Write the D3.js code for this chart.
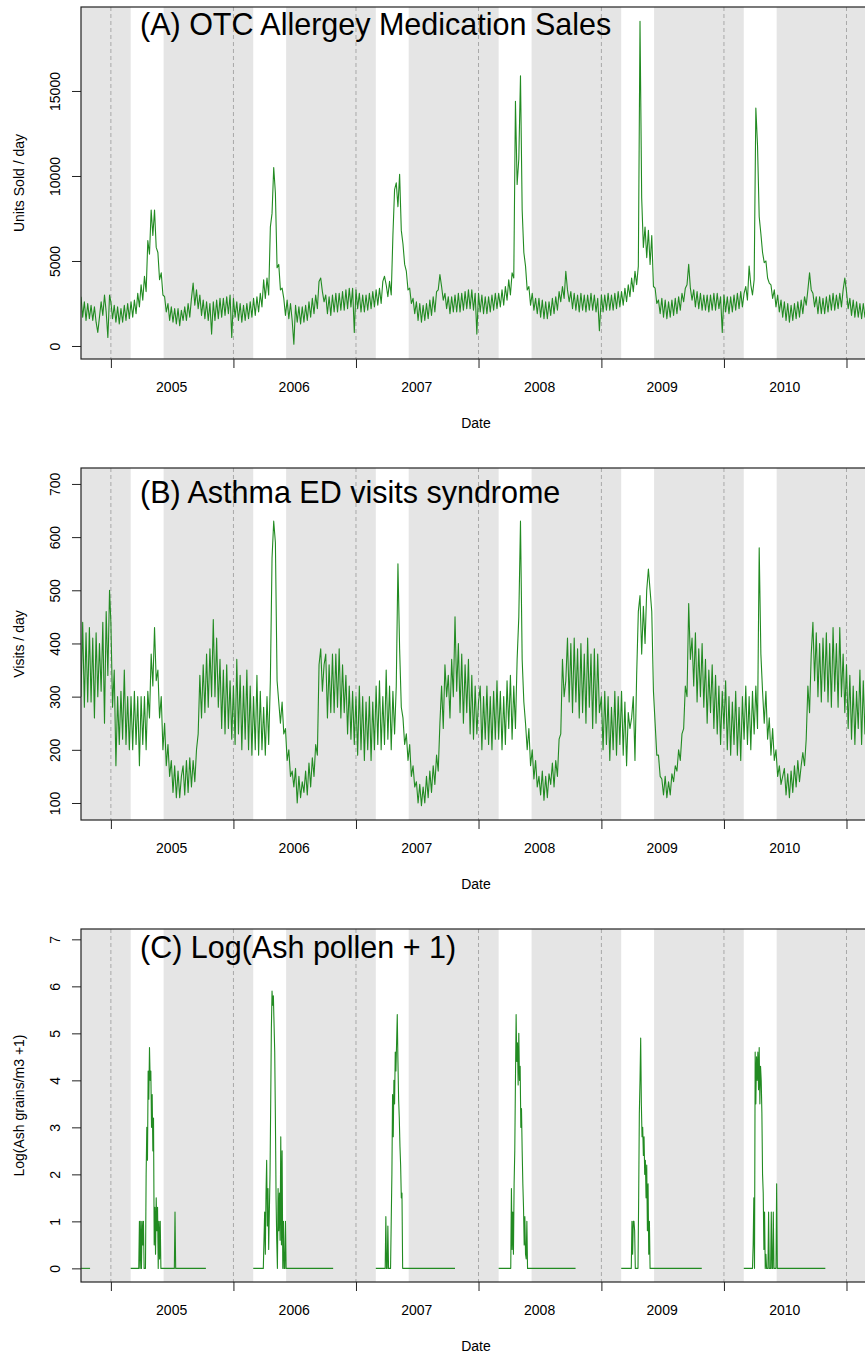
<!DOCTYPE html>
<html><head><meta charset="utf-8">
<script src="https://cdn.jsdelivr.net/npm/d3@7"></script>
<style>
body{margin:0;background:#fff}
svg{display:block}
text{font-family:"Liberation Sans",Arial,Helvetica,sans-serif;fill:#000}
</style>
</head><body>
<svg id="chart" width="865" height="1355"></svg>
<script>
// ---------- DATA ----------
// Panel A: OTC allergy medication units sold/day, one value every 5 days from the start date
const otc2004 = [2900,1700,2600,1500,2500,1600, 2400,1500,2300,1400,800,1700, 2600,1800,3000,2000,500,3000];
const otc2005 = [2600,1600,2400,1400,2300,1300,2200, 1400,2400,1500,2500,1600, 2600,1700,2700,1900,3100,2300,
  3600,2700,4100,3200,6200,5400, 8000,6500,8000,5800,5500,3900, 4300,3000,2900,2000,2500,1500,
  2300,1400,2200,1300,2200,1200,2100, 1500,2300,1500,2500,1700,2800, 3700,2400,3300,2200,3000,1800,
  2700,1600,2600,1500,2500,700, 2600,1500,2700,1600,2800,1700, 2800,1800,2900,1900,3000,500];
const otc2006 = [2800,1700,2600,1500,2500,1400,2400, 1500,2500,1600,2600,1700, 2800,1800,2900,2000,3100,2300,
  3900,2800,4000,3000,7000,7800, 10500,9000,4600,4800,3300,3400, 2800,1800,2700,1600,2500,1500,
  100,2400,1400,2300,1300,2300,1400, 2400,1500,2600,1700,2800,1900, 3000,2200,3800,4000,3200,2600,
  3000,1900,2900,1800,3000,2000, 3100,2000,3100,2100,3200,2100, 3300,2200,3400,2300,3400,800];
const otc2007 = [3300,2200,3100,2000,3000,2000,3000, 2100,3100,2200,3200,2300, 3300,2400,3400,2500,3800,4100,
  3600,2900,3800,3000,6500,9200, 9600,8200,10100,6800,6000,4800, 4400,3300,3400,2500,2800,1900,
  2600,1500,2500,1400,2400,1500,2500, 1600,2700,1800,2900,2000,3200, 3300,4200,3500,2700,3100,2200,
  2900,1900,2900,2000,3000,2000, 3100,2000,3100,2100,3200,2200, 3300,2200,3300,2100,3100,700];
const otc2008 = [3100,2000,3000,1900,2900,1900,2900, 2000,3000,2100,3100,2200, 3100,2300,3300,2400,3500,2700,
  3900,3000,4300,4000,14400,9500, 11000,15900,8000,5500,4700,3300, 3500,2400,3100,2100,2800,1900,
  2800,1700,2700,1600,2600,1600,2600, 1800,2800,1900,2900,2100,3200, 2600,3500,2800,4400,3300,2600,
  3200,2200,3100,2100,3000,2000, 3100,2100,3000,2000,3000,2100, 3100,2100,3000,2000,2800,900];
const otc2009 = [3000,2000,3000,2100,3100,2100,3000, 2100,3100,2200,3200,2300, 3200,2400,3400,2600,3600,2900,
  4000,3200,4400,3600,4700,19100, 8700,5800,7000,5200,6800,4800, 6500,3500,3400,2500,2700,1900,
  2800,1700,2700,1600,2600,1700,2700, 1800,2800,1900,2900,2100,3100, 2600,3400,3600,4800,3400,2700,
  3300,2300,3200,2200,3100,2100, 3000,2100,3000,2000,3000,2100, 3100,2100,3100,2200,2900,800];
const otc2010 = [3000,2000,2900,1900,2900,2000,3000, 2100,3100,2200,3200,2300, 3100,3500,2700,4700,3600,3000,
  3900,14000,11800,7600,6600,5500, 4900,5000,4000,3700,3600,2800, 3300,2300,3000,2000,2700,1700,
  2600,1500,2500,1400,2400,1500,2500, 1600,2600,1700,2700,1900,2900, 2400,3300,4300,3300,3100,2300,
  2900,1900,2900,1900,2800,1900, 2900,2000,3000,2100,3100,2100, 3000,2200,3100,2300,3300,4000];
const otc2011 = [3200,2200,2800,1800,2700,1700,2600,1700,2500,1600,2500,1700,2600,1700,2500];

// Panel B: asthma ED visits/day, one value every 5 days
const asthma2004 = [300,440,280,420,290,430, 290,410,260,420,300,400, 310,440,250,460,340,500];
const asthma2005 = [440,280,350,170,300,210,310, 220,350,210,300,200, 300,200,310,210,300,170,
  300,210,300,200,310,260, 380,320,430,330,350,260, 300,200,250,170,210,150,
  180,120,170,110,160,110,150, 170,115,180,120,185,130, 180,140,200,230,340,260,
  360,270,380,280,390,300, 445,300,410,280,370,240, 350,230,360,240,330,220];
const asthma2006 = [320,210,370,230,340,200,320, 220,350,200,320,190, 300,200,340,190,310,200,
  280,190,300,210,330,560, 630,590,330,290,250,290, 230,240,180,200,150,160,
  130,165,100,150,110,140,120, 160,115,175,130,185,150, 210,190,360,390,310,360,
  380,260,360,270,380,270, 380,280,390,260,360,270, 340,230,320,220,310,210];
const asthma2007 = [300,190,320,200,300,180,290, 200,300,180,290,200, 320,210,330,200,300,210,
  350,220,320,200,310,230, 320,550,390,280,260,210, 230,180,210,150,170,130,
  140,100,135,95,130,100,150, 110,160,120,170,135,190, 160,250,320,240,360,300,
  340,260,370,300,450,310, 400,270,380,250,360,270, 370,230,340,220,320,230];
const asthma2008 = [290,320,200,300,220,320,210, 300,200,310,220,330, 220,310,200,300,210,330,
  240,340,220,320,240,370, 450,630,370,290,250,200, 240,170,200,145,180,130,
  150,115,160,105,150,110,155, 135,175,130,180,150,220, 230,370,300,330,410,290,
  400,270,410,290,390,260, 400,270,380,250,410,280, 380,240,390,250,380,270];
const asthma2009 = [300,200,310,210,300,180,280, 200,310,190,300,210, 310,190,290,170,270,240,
  260,300,180,340,460,490, 380,470,400,500,540,500, 460,310,250,190,190,150,
  145,115,150,110,140,115,155, 140,170,160,200,180,230, 240,320,300,475,370,410,
  320,420,290,390,300,400, 280,370,250,350,270,360, 240,340,230,320,210,310];
const asthma2010 = [240,330,200,300,190,290,210, 310,190,280,180,300, 220,320,210,300,200,310,
  230,320,240,580,380,310, 250,310,220,260,190,240, 180,200,150,170,135,150,
  165,115,155,110,160,120,170, 130,180,140,170,195,170, 220,320,270,380,440,330,
  420,300,400,290,410,310, 420,290,400,280,430,310, 400,280,430,300,380,270];
const asthma2011 = [360,240,340,220,320,210,310,240,350,210,330,230,340,220,310];

// Panel C: log(ash pollen + 1), one value every 2 days from 1 March; then 0 until season end
const pollen2004 = [0];
const pollen2005 = [0,0,0,0,0,0,0,0,0,0,0,0,0, 1.0,0,1.0,0,1.0,0.5,1.0,0,0,0,
  2.0,3.0,2.3,4.2,3.6,4.7,4.0,4.2,3.0,3.7, 2.5,3.2,0.5,1.3,0.3,1.5,0.8,1.3,0,1.0, 0.2,1.0,0,
  0,0,0,0,0,0,0,0,0,0, 0,0,0,0,0,0,0,0,0,0, 1.2,0];
const pollen2006 = [0,0,0,0,0,0,0,0,0,0,0,0,0,0,0, 0,0.6,1.2,0.3,1.6,2.3,0.9,1.7,0.4,1.2,
  2.0,3.5,5.1,5.9,5.6,5.8,5.2,4.6,3.2,1.5, 0.6,0,1.7,0.8,1.6,0.6,2.8,0.5,2.5,0, 1.0,0,0,1.0,0];
const pollen2007 = [0,0,0,0,0,0,0,0,0,0,0,0,0,0,0, 1.1,0,0,0.9,0,0,0,0,1.0,2.0,
  3.7,2.8,4.0,3.5,4.6,4.2,4.8,5.4,4.4,3.6, 3.2,2.6,2.2,1.5,1.6,0];
const pollen2008 = [0,0,0,0,0,0,0,0,0,0,0,0,0,0,0,0,0,0, 0, 1.7,0.4,1.2,0.3,1.8,2.5,4.0,5.4,4.4,4.8,
  3.9,5.0,4.0,4.3,3.0,3.4,2.5,1.8,1.3,0.5,1.1,0.3,0.2,1.0,0];
const pollen2009 = [0,0,0,0,0,0,0,0,0,0,0,0,0,0,0,0, 1.0,0.3,1.0,1.0,0.8, 0,0,0,0,0,
  1.5,3.3,4.0,4.9,3.5,2.8,3.0,2.4,2.8,2.0,2.3,1.5,2.2,0.8,1.8,0.3,1.0,0];
const pollen2010 = [0,0,0,0,0,0,0,0,0,0,0,0,0,0, 0.5,1.5,0, 4.6,3.5,4.5,4.0,4.6,3.8,4.7,3.5,4.3,4.0,3.3,2.0,
  1.6,0.4,1.2,0,0.3,0,0,0,1.2,0,0,0,1.2,0,0,1.2,0,0,0,0,1.8,0];
const pollenStarts = ["2004-10-04","2005-03-01","2006-03-01","2007-03-01","2008-03-01","2009-03-01","2010-03-01"];
const pollenEnds   = ["2004-10-31","2005-10-11","2006-10-25","2007-10-23","2008-10-16","2009-10-27","2010-10-30"];

// Axis / annotation data
const yearStarts = ["2005-01-01","2006-01-01","2007-01-01","2008-01-01","2009-01-01","2010-01-01","2011-01-01"];
const yearLabels = ["2005","2006","2007","2008","2009","2010"];
const seasonStarts = ["2005-03-01","2006-03-01","2007-03-01","2008-03-01","2009-03-01","2010-03-01"];
const seasonEnds   = ["2005-06-07","2006-06-07","2007-06-07","2008-06-07","2009-06-07","2010-06-07"];
const yTicksA = [0,5000,10000,15000];
const yTicksB = [100,200,300,400,500,600,700];
const yTicksC = [0,1,2,3,4,5,6,7];
const titles = ["(A) OTC Allergey Medication Sales","(B) Asthma ED visits syndrome","(C) Log(Ash pollen + 1)"];
const yTitles = ["Units Sold / day","Visits / day","Log(Ash grains/m3 +1)"];
const xTitle = "Date";

// ---------- BUILD ----------
const parse = d3.timeParse("%Y-%m-%d");
function seriesFrom(startStr, vals, step){
  const s = parse(startStr);
  return vals.map((v,i)=>({date:d3.timeDay.offset(s, step*i), value:v}));
}
const otcData = [].concat(
  seriesFrom("2004-10-04",otc2004,5), seriesFrom("2005-01-01",otc2005,5), seriesFrom("2006-01-01",otc2006,5),
  seriesFrom("2007-01-01",otc2007,5), seriesFrom("2008-01-01",otc2008,5), seriesFrom("2009-01-01",otc2009,5),
  seriesFrom("2010-01-01",otc2010,5), seriesFrom("2011-01-01",otc2011,5));
const asthmaData = [].concat(
  seriesFrom("2004-10-04",asthma2004,5), seriesFrom("2005-01-01",asthma2005,5), seriesFrom("2006-01-01",asthma2006,5),
  seriesFrom("2007-01-01",asthma2007,5), seriesFrom("2008-01-01",asthma2008,5), seriesFrom("2009-01-01",asthma2009,5),
  seriesFrom("2010-01-01",asthma2010,5), seriesFrom("2011-01-01",asthma2011,5));
const pollenArrays = [pollen2004,pollen2005,pollen2006,pollen2007,pollen2008,pollen2009,pollen2010];
const pollenSegs = pollenArrays.map((arr,k)=>{
  const seg = seriesFrom(pollenStarts[k], arr, 2);
  seg.push({date:parse(pollenEnds[k]), value:0});
  return seg;
});

const svg = d3.select("#chart");
const PL = 81, PR = 871;
const x = d3.scaleTime().domain([parse("2004-10-04"), parse("2011-03-15")]).range([PL, PR]);

const panels = [
  {top:7,   bottom:359,  domain:[-765,19940], ticks:yTicksA, titleY:35,  segs:[otcData]},
  {top:468, bottom:820,  domain:[68,730],     ticks:yTicksB, titleY:503, segs:[asthmaData]},
  {top:929, bottom:1282, domain:[-0.29,7.22], ticks:yTicksC, titleY:958, segs:pollenSegs}
];

panels.forEach((p,k)=>{
  const y = d3.scaleLinear().domain(p.domain).range([p.bottom, p.top]);
  const h = p.bottom - p.top;
  const g = svg.append("g");
  g.append("clipPath").attr("id","clip"+k).append("rect")
    .attr("x",PL).attr("y",p.top).attr("width",PR-PL).attr("height",h);
  const pg = g.append("g").attr("clip-path",`url(#clip${k})`);
  pg.append("rect").attr("x",PL).attr("y",p.top).attr("width",PR-PL).attr("height",h).attr("fill","#e5e5e5");
  seasonStarts.forEach((s,i)=>{
    const x0 = x(parse(s)), x1 = x(parse(seasonEnds[i]));
    pg.append("rect").attr("x",x0).attr("y",p.top).attr("width",x1-x0).attr("height",h).attr("fill","#ffffff");
  });
  yearStarts.forEach(s=>{
    const xx = x(parse(s));
    pg.append("line").attr("x1",xx).attr("x2",xx).attr("y1",p.top).attr("y2",p.bottom)
      .attr("stroke","#a8a8a8").attr("stroke-width",1).attr("stroke-dasharray","4,3");
  });
  const line = d3.line().x(d=>x(d.date)).y(d=>y(d.value));
  p.segs.forEach(seg=>{
    pg.append("path").datum(seg).attr("d",line).attr("fill","none")
      .attr("stroke","#228B22").attr("stroke-width",1.1).attr("stroke-linejoin","round");
  });
  g.append("rect").attr("x",PL).attr("y",p.top).attr("width",PR-PL).attr("height",h)
    .attr("fill","none").attr("stroke","#222").attr("stroke-width",1.2);
  const ya = g.append("g").attr("transform",`translate(${PL},0)`)
    .call(d3.axisLeft(y).tickValues(p.ticks).tickSize(9).tickFormat(d3.format("d")));
  ya.select(".domain").remove();
  ya.selectAll(".tick line").attr("stroke","#222");
  ya.selectAll(".tick text").attr("x",null).attr("dy","0.35em")
    .attr("transform","translate(-26,0) rotate(-90)").attr("text-anchor","middle")
    .style("font-size","14px").style("font-family","'Liberation Sans',Arial,sans-serif").attr("fill","#000");
  const xa = g.append("g").attr("transform",`translate(0,${p.bottom})`)
    .call(d3.axisBottom(x).tickValues(yearStarts.map(parse)).tickSize(9).tickFormat(""));
  xa.select(".domain").remove();
  xa.selectAll(".tick line").attr("stroke","#222");
  yearLabels.forEach(lbl=>{
    g.append("text").attr("x",x(parse(lbl+"-07-01"))).attr("y",p.bottom+28).attr("dy","0.35em")
      .attr("text-anchor","middle").style("font-size","14px").text(lbl);
  });
  g.append("text").attr("x",(PL+PR)/2).attr("y",p.bottom+64).attr("dy","0.35em")
    .attr("text-anchor","middle").style("font-size","14px").text(xTitle);
  g.append("text").attr("transform",`translate(19,${(p.top+p.bottom)/2}) rotate(-90)`).attr("dy","0.35em")
    .attr("text-anchor","middle").style("font-size","14px").text(yTitles[k]);
  g.append("text").attr("x",140).attr("y",p.titleY).style("font-size","30.5px").text(titles[k]);
});
</script>
</body></html>
